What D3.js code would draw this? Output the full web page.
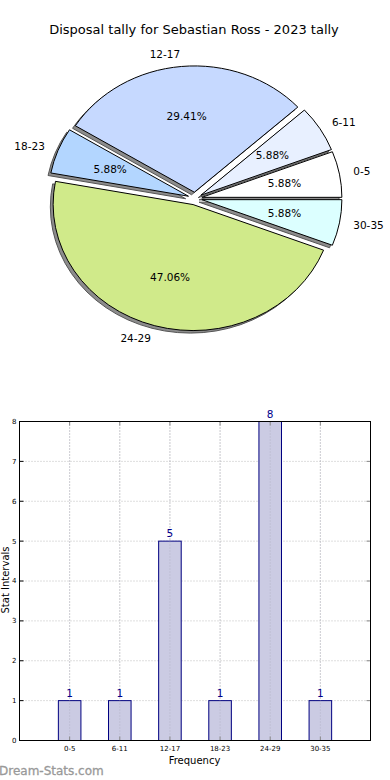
<!DOCTYPE html>
<html><head><meta charset="utf-8">
<script src="https://cdn.jsdelivr.net/npm/d3@7"></script>
<style>
body{margin:0;background:#fff;}
text{font-family:"DejaVu Sans",sans-serif;}
</style></head>
<body>
<svg id="c" width="390" height="780"></svg>
<script>
const categories = ["0-5","6-11","12-17","18-23","24-29","30-35"];
const counts = [1,1,5,1,8,1];
const sliceColors = ["#ffffff","#e8f0ff","#c6d9ff","#b3d6ff","#d0ea8a","#dcffff"];
const yTicks = [0,1,2,3,4,5,6,7,8];
const title = "Disposal tally for Sebastian Ross - 2023 tally";

const svg = d3.select("#c");
svg.append("rect").attr("width",390).attr("height",780).attr("fill","#fff");

svg.append("text").attr("x",194).attr("y",34).attr("text-anchor","middle")
  .attr("font-size",13).attr("fill","#000").text(title);

// ---- Pie (matplotlib-style, elliptical, exploded, shadowed) ----
const cx = 195, cy = 198.5, Rx = 140, Ry = 126.3, explode = 0.05, shadowOff = 0.02;
const total = d3.sum(counts);
const pie = d3.pie().sort(null).value(d=>d)(counts);
const wedges = pie.map((p,i)=>{
  const t0 = p.startAngle, t1 = p.endAngle, mid = (t0+t1)/2;
  return {i, t0, t1, mid, v:counts[i]};
});
const arcGen = d3.arc().innerRadius(0).outerRadius(1);
function wedgePath(w){
  return arcGen({startAngle: Math.PI/2 - w.t1, endAngle: Math.PI/2 - w.t0});
}
const pieG = svg.append("g");
wedges.forEach(w=>{
  const ox = cx + explode*Rx*Math.cos(w.mid) - shadowOff*Rx;
  const oy = cy - explode*Ry*Math.sin(w.mid) + shadowOff*Ry;
  pieG.append("path").attr("d",wedgePath(w))
    .attr("transform",`translate(${ox},${oy}) scale(${Rx},${Ry})`)
    .attr("fill","#8c8c8c").attr("stroke","#555").attr("stroke-width",1)
    .attr("vector-effect","non-scaling-stroke");
});
wedges.forEach(w=>{
  const ox = cx + explode*Rx*Math.cos(w.mid);
  const oy = cy - explode*Ry*Math.sin(w.mid);
  pieG.append("path").attr("d",wedgePath(w))
    .attr("transform",`translate(${ox},${oy}) scale(${Rx},${Ry})`)
    .attr("fill",sliceColors[w.i]).attr("stroke","#000").attr("stroke-width",1)
    .attr("vector-effect","non-scaling-stroke");
});
wedges.forEach(w=>{
  const c = Math.cos(w.mid), s = Math.sin(w.mid);
  const lx = cx + (1.1+explode)*Rx*c, ly = cy - (1.1+explode)*Ry*s;
  pieG.append("text").attr("x",lx).attr("y",ly).attr("dy","0.35em")
    .attr("text-anchor", c>0 ? "start" : "end").attr("font-size",10.5)
    .text(categories[w.i]);
  const px = cx + (0.6+explode)*Rx*c, py = cy - (0.6+explode)*Ry*s;
  pieG.append("text").attr("x",px).attr("y",py).attr("dy","0.35em")
    .attr("text-anchor","middle").attr("font-size",10.5)
    .text((w.v/total*100).toFixed(2)+"%");
});

// ---- Bar chart ----
const L = 19.5, R = 370.5, T = 421.5, B = 740.5;
const x = d3.scaleLinear().domain([-1,6]).range([L,R]);
const y = d3.scaleLinear().domain([0,8]).range([B,T]);
const bw = x(0.45)-x(0);
const g = svg.append("g");
g.selectAll(".gx").data(categories).enter().append("line")
  .attr("x1",(d,i)=>x(i)).attr("x2",(d,i)=>x(i)).attr("y1",T).attr("y2",B)
  .attr("stroke","#bdbdbd").attr("stroke-width",1).attr("stroke-dasharray","1,2");
g.selectAll(".gy").data(yTicks).enter().append("line")
  .attr("x1",L).attr("x2",R).attr("y1",d=>y(d)).attr("y2",d=>y(d))
  .attr("stroke","#bdbdbd").attr("stroke-width",1).attr("stroke-dasharray","1,2");
g.selectAll(".bar").data(counts).enter().append("rect")
  .attr("x",(d,i)=>x(i)-bw/2).attr("y",d=>y(d)).attr("width",bw).attr("height",d=>B-y(d))
  .attr("fill","#cbcbe3").attr("stroke","#000080").attr("stroke-width",1);
g.selectAll(".gx2").data(categories).enter().append("line")
  .attr("x1",(d,i)=>x(i)).attr("x2",(d,i)=>x(i)).attr("y1",T).attr("y2",B)
  .attr("stroke","#a8a8b8").attr("stroke-width",1).attr("stroke-dasharray","1,2")
  .attr("opacity",0.6);
g.selectAll(".vl").data(counts).enter().append("text")
  .attr("x",(d,i)=>x(i)).attr("y",d=>y(d)-4).attr("text-anchor","middle")
  .attr("font-size",10.5).attr("fill","#00008b").text(d=>d);
yTicks.forEach(t=>{
  g.append("line").attr("x1",L).attr("x2",L+4).attr("y1",y(t)).attr("y2",y(t)).attr("stroke","#000");
  g.append("line").attr("x1",R).attr("x2",R-4).attr("y1",y(t)).attr("y2",y(t)).attr("stroke","#888");
});
categories.forEach((c,i)=>{
  g.append("line").attr("x1",x(i)).attr("x2",x(i)).attr("y1",B).attr("y2",B-4).attr("stroke","#888");
  g.append("line").attr("x1",x(i)).attr("x2",x(i)).attr("y1",T).attr("y2",T+4).attr("stroke","#888");
});
g.append("rect").attr("x",L).attr("y",T).attr("width",R-L).attr("height",B-T)
  .attr("fill","none").attr("stroke","#000").attr("stroke-width",1);
g.selectAll(".yl").data(yTicks).enter().append("text")
  .attr("x",L-3).attr("y",d=>y(d)).attr("dy","0.35em").attr("text-anchor","end")
  .attr("font-size",7).text(d=>d);
g.selectAll(".xl").data(categories).enter().append("text")
  .attr("x",(d,i)=>x(i)).attr("y",B+10).attr("text-anchor","middle")
  .attr("font-size",7).text(d=>d);
svg.append("text").attr("x",194.5).attr("y",764).attr("text-anchor","middle")
  .attr("font-size",10).text("Frequency");
svg.append("text").attr("transform","translate(9,580) rotate(-90)")
  .attr("text-anchor","middle").attr("font-size",10).text("Stat Intervals");
svg.append("text").attr("x",-1).attr("y",775).attr("font-size",12)
  .attr("fill","#999999").attr("stroke","#999999").attr("stroke-width",0.3)
  .text("Dream-Stats.com");
</script>
</body></html>
